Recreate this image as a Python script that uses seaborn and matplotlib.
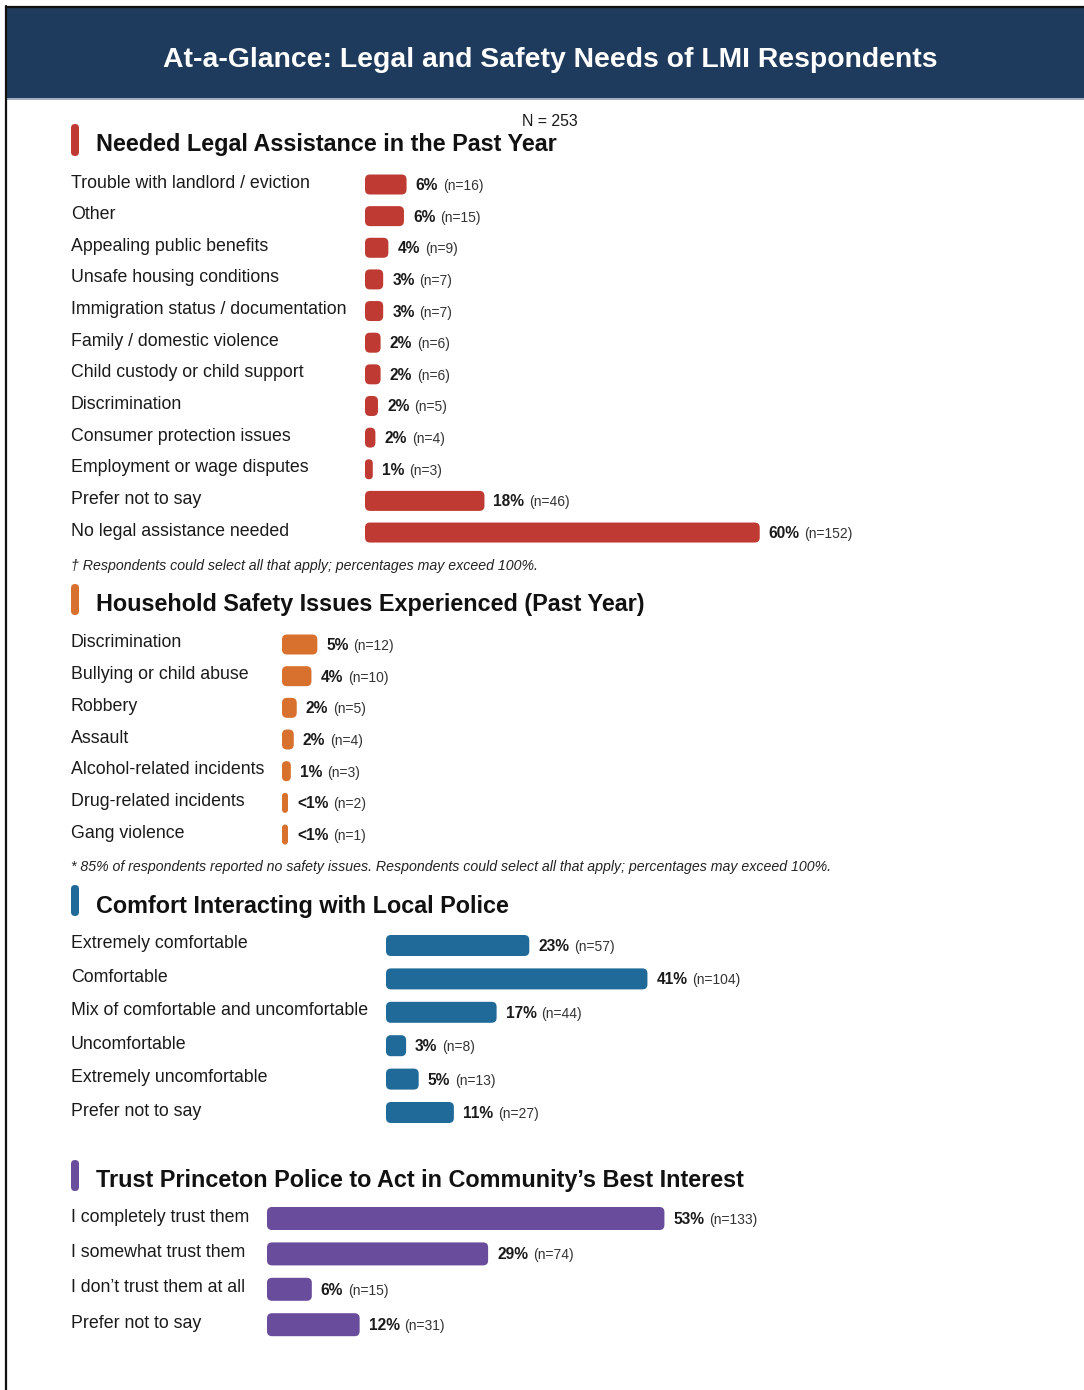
import numpy as np
import pandas as pd
import matplotlib
matplotlib.use("Agg")
import matplotlib.pyplot as plt
import seaborn as sns
from matplotlib.patches import Rectangle, FancyBboxPatch
from matplotlib.lines import Line2D
from matplotlib.transforms import blended_transform_factory

# ---------------- data ----------------
N_TOTAL = 253

legal_categories = [
    "Trouble with landlord / eviction",
    "Other",
    "Appealing public benefits",
    "Unsafe housing conditions",
    "Immigration status / documentation",
    "Family / domestic violence",
    "Child custody or child support",
    "Discrimination",
    "Consumer protection issues",
    "Employment or wage disputes",
    "Prefer not to say",
    "No legal assistance needed",
]
legal_counts = [16, 15, 9, 7, 7, 6, 6, 5, 4, 3, 46, 152]

safety_categories = [
    "Discrimination",
    "Bullying or child abuse",
    "Robbery",
    "Assault",
    "Alcohol-related incidents",
    "Drug-related incidents",
    "Gang violence",
]
safety_counts = [12, 10, 5, 4, 3, 2, 1]

comfort_categories = [
    "Extremely comfortable",
    "Comfortable",
    "Mix of comfortable and uncomfortable",
    "Uncomfortable",
    "Extremely uncomfortable",
    "Prefer not to say",
]
comfort_counts = [57, 104, 44, 8, 13, 27]

trust_categories = [
    "I completely trust them",
    "I somewhat trust them",
    "I don\u2019t trust them at all",
    "Prefer not to say",
]
trust_counts = [133, 74, 15, 31]

page_title = "At-a-Glance: Legal and Safety Needs of LMI Respondents"
legal_title = "Needed Legal Assistance in the Past Year"
safety_title = "Household Safety Issues Experienced (Past Year)"
comfort_title = "Comfort Interacting with Local Police"
trust_title = "Trust Princeton Police to Act in Community\u2019s Best Interest"
legal_note = "\u2020 Respondents could select all that apply; percentages may exceed 100%."
safety_note = ("* 85% of respondents reported no safety issues. Respondents could select "
               "all that apply; percentages may exceed 100%.")

# ---------------- style ----------------
sns.set_theme(style="white")
plt.rcParams["font.family"] = ["Liberation Sans", "DejaVu Sans"]

W, H, DPI = 1084, 1390, 100
NAVY = "#1e3a5c"
TEXT = "#1a1a1a"
MIN_BAR_PX = 6.0

fig = plt.figure(figsize=(W / DPI, H / DPI), dpi=DPI)
fig.patch.set_facecolor("white")


def fx(x):
    return x / W


def fy(y):
    return 1 - y / H


def pct_label(p):
    return "<1%" if p < 1 else f"{int(p + 0.5)}%"


def rounded_px(x0, y_top, w, h, r, color):
    """Rounded rectangle given in top-origin page pixels."""
    y0 = H - y_top - h
    r = min(r, w / 2, h / 2)
    patch = FancyBboxPatch((x0 / DPI, y0 / DPI), w / DPI, h / DPI,
                           boxstyle=f"round,pad=0,rounding_size={r / DPI}",
                           transform=fig.dpi_scale_trans,
                           facecolor=color, edgecolor="none", zorder=3)
    fig.add_artist(patch)


# ---------------- page frame and header ----------------
fig.add_artist(Rectangle((fx(7), fy(98)), (W - 7) / W, 90 / H,
                         transform=fig.transFigure, facecolor=NAVY,
                         edgecolor="none", zorder=1))
fig.add_artist(Line2D([fx(7), 1], [fy(98.8), fy(98.8)], transform=fig.transFigure,
                      color="#8e9db0", lw=1.2, zorder=2))
fig.add_artist(Line2D([fx(6), fx(6)], [fy(6), 0], transform=fig.transFigure,
                      color="#111111", lw=1.6, zorder=4))
fig.add_artist(Line2D([fx(6), 1], [fy(6.5), fy(6.5)], transform=fig.transFigure,
                      color="#111111", lw=1.6, zorder=4))
fig.text(fx(550), fy(60), page_title, ha="center", va="center", color="white",
         fontsize=20.4, fontweight="bold")

# ---------------- sections ----------------
sections = [
    dict(title=legal_title, cats=legal_categories, counts=legal_counts, color="#bf3a32",
         accent=(124, 156), title_y=144.5, row0=184.5, step=31.64, bar_h=20,
         left=365, px_per_pct=6.57),
    dict(title=safety_title, cats=safety_categories, counts=safety_counts, color="#d8702e",
         accent=(584, 615), title_y=604.5, row0=644.5, step=31.67, bar_h=20,
         left=282, px_per_pct=7.45),
    dict(title=comfort_title, cats=comfort_categories, counts=comfort_counts, color="#206a9a",
         accent=(885, 916), title_y=906.5, row0=945.5, step=33.4, bar_h=21,
         left=386, px_per_pct=6.36),
    dict(title=trust_title, cats=trust_categories, counts=trust_counts, color="#6a4c9c",
         accent=(1160, 1191), title_y=1180.5, row0=1218.5, step=35.4, bar_h=23,
         left=267, px_per_pct=7.56),
]

RIGHT = 1040
for sec in sections:
    df = pd.DataFrame({"category": sec["cats"], "n": sec["counts"]})
    df["pct"] = df["n"] / N_TOTAL * 100
    k = len(df)
    step = sec["step"]
    top = sec["row0"] - step / 2
    bottom = sec["row0"] + (k - 1) * step + step / 2
    ax = fig.add_axes([fx(sec["left"]), fy(bottom), (RIGHT - sec["left"]) / W, (bottom - top) / H])
    sns.barplot(data=df, x="pct", y="category", orient="h", color=sec["color"],
                saturation=1, width=sec["bar_h"] / step, errorbar=None, ax=ax)
    ax.set_xlim(0, (RIGHT - sec["left"]) / sec["px_per_pct"])
    ax.set_ylim(k - 0.5, -0.5)
    ax.axis("off")

    # swap the square bars for rounded ones
    for p in list(ax.patches):
        bb = p.get_window_extent()
        w = max(bb.width, MIN_BAR_PX)
        rounded_px(bb.x0, H - bb.y1, w, bb.height, 5, sec["color"])
        p.remove()

    min_pct = MIN_BAR_PX / sec["px_per_pct"]
    lab_tr = blended_transform_factory(fig.transFigure, ax.transData)
    for i, row in df.iterrows():
        ax.annotate(row["category"], xy=(fx(71), i), xycoords=lab_tr,
                    xytext=(0, -3 * 0.72), textcoords="offset points",
                    ha="left", va="baseline", fontsize=12.8, color=TEXT)
        t1 = ax.annotate(pct_label(row["pct"]), xy=(max(row["pct"], min_pct), i),
                         xytext=(6.5, -5.5 * 0.72), textcoords="offset points",
                         ha="left", va="baseline", fontsize=11.2, fontweight="bold",
                         color=TEXT)
        ax.annotate(f"(n={row['n']})", xy=(1, i), xycoords=(t1, "data"),
                    xytext=(3.5, -5.5 * 0.72), textcoords="offset points",
                    ha="left", va="baseline", fontsize=10, color="#333333")

    a0, a1 = sec["accent"]
    rounded_px(71, a0, 8, a1 - a0, 4, sec["color"])
    fig.text(fx(96), fy(sec["title_y"]), sec["title"], ha="left", va="center",
             fontsize=16.8, fontweight="bold", color="#111111")

fig.text(fx(522), fy(122), "N = 253", ha="left", va="center", fontsize=11.4, color=TEXT)
fig.text(fx(71), fy(566), legal_note, ha="left", va="center", fontsize=10.15,
         style="italic", color="#222222")
fig.text(fx(71), fy(867), safety_note, ha="left", va="center", fontsize=10.15,
         style="italic", color="#222222")

fig.savefig("out.png", dpi=DPI, facecolor="white")
